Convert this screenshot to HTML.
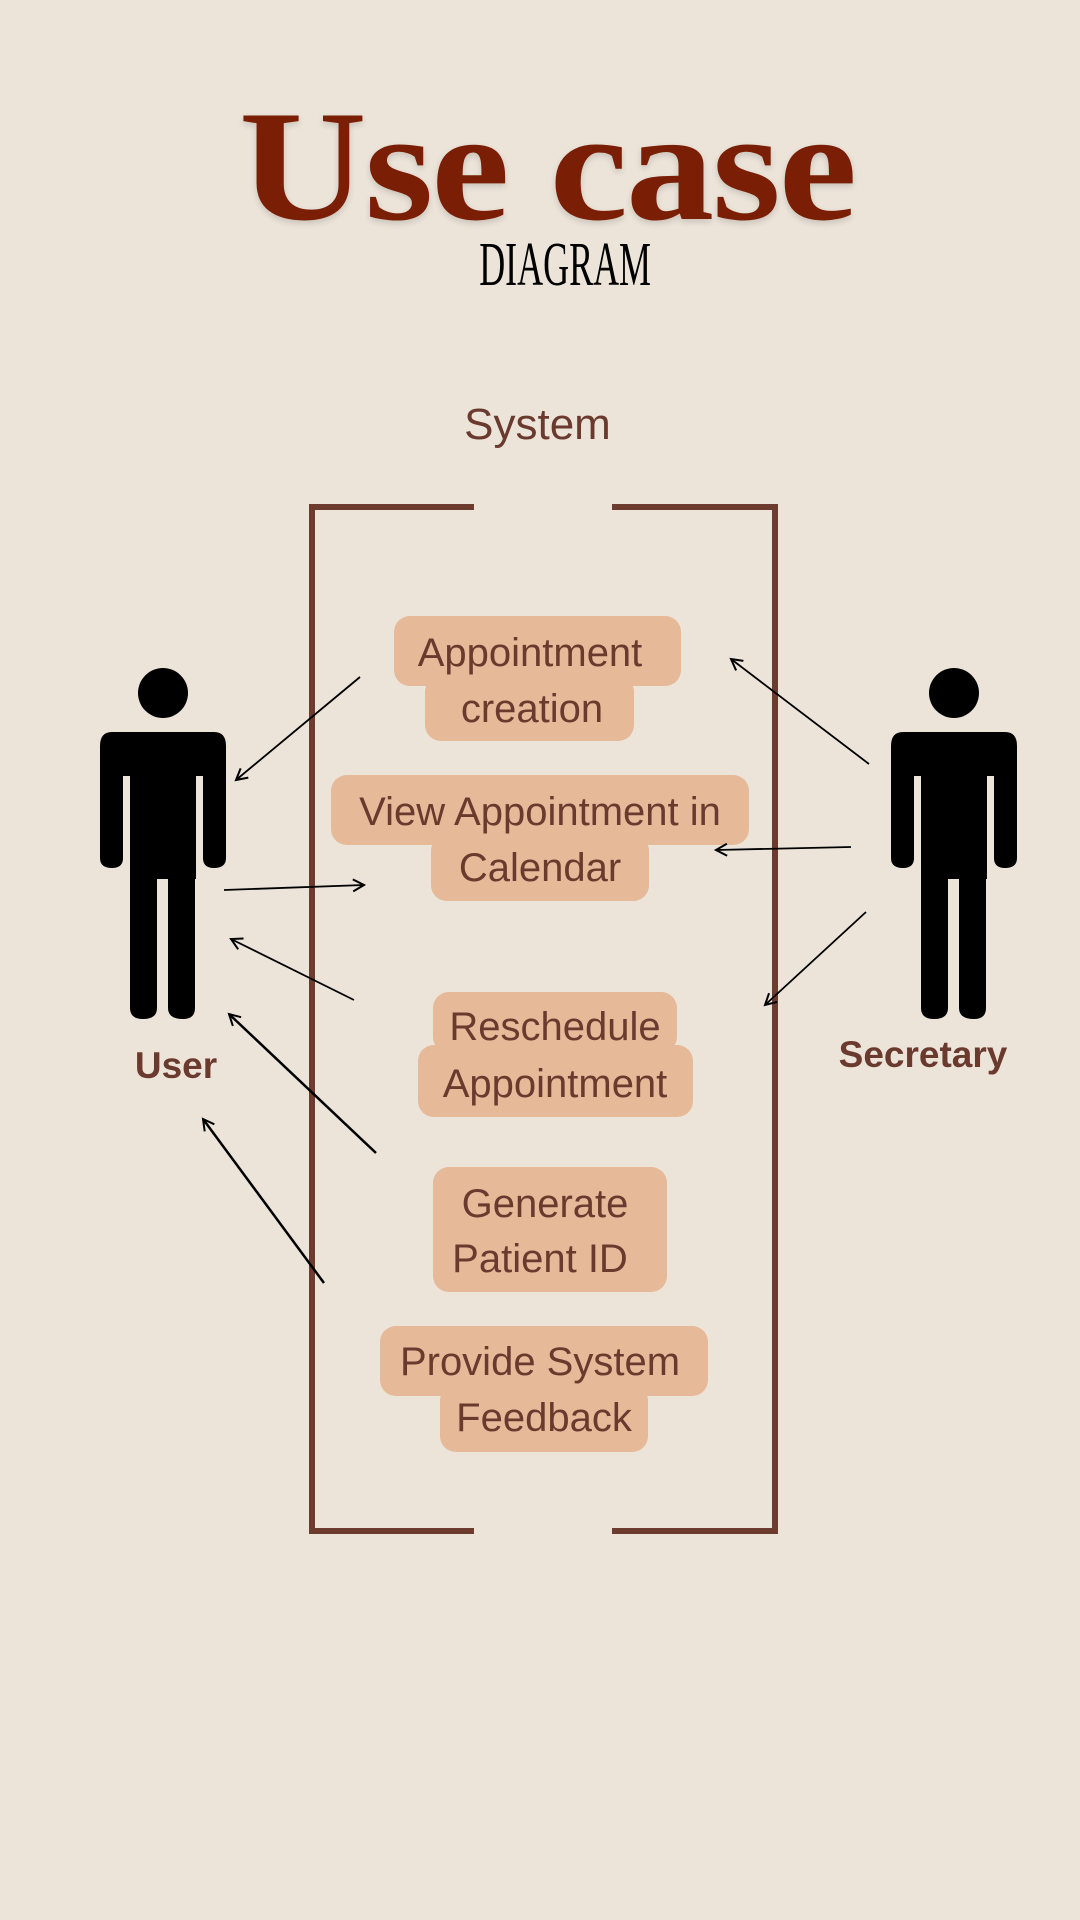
<!DOCTYPE html>
<html><head><meta charset="utf-8"><style>
html,body{margin:0;padding:0}
body{width:1080px;height:1920px;background:#ece4d9;position:relative;overflow:hidden;font-family:"Liberation Sans",sans-serif}
.t{position:absolute;white-space:nowrap}
.box{position:absolute;background:#e6b998;border-radius:16px}
.lbl{position:absolute;left:0;width:1080px;text-align:center;color:#6b3a2e;font-size:40px;line-height:1}
</style></head><body>
<div class="t" style="left:0;width:1080px;top:88px;text-align:center;font-family:'Liberation Serif',serif;font-weight:bold;font-size:158px;color:#7a1f05;letter-spacing:-2px;line-height:1;text-shadow:0 3px 6px rgba(0,0,0,0.15)"><span style="display:inline-block;transform:scaleX(1.12);margin-left:14px">Use case</span></div>
<div class="t" style="left:0;width:1130px;top:234px;text-align:center;font-family:'Liberation Serif',serif;font-size:62px;color:#000;line-height:1"><span style="display:inline-block;transform:scaleX(0.58)">DIAGRAM</span></div>
<div class="t" style="left:0;width:1075px;top:400px;text-align:center;font-size:44px;color:#6b3a2e">System</div>

<svg width="1080" height="1920" style="position:absolute;left:0;top:0">
<g fill="none" stroke="#6e3b2f" stroke-width="6">
<polyline points="474,507 312,507 312,1531 474,1531"/>
<polyline points="612,507 775,507 775,1531 612,1531"/>
</g>
</svg>

<div class="box" style="left:394px;top:616px;width:287px;height:70px"></div>
<div class="box" style="left:425px;top:676px;width:209px;height:65px"></div>
<div class="box" style="left:331px;top:775px;width:418px;height:70px"></div>
<div class="box" style="left:431px;top:835px;width:218px;height:66px"></div>
<div class="box" style="left:433px;top:992px;width:244px;height:61px"></div>
<div class="box" style="left:418px;top:1045px;width:275px;height:72px"></div>
<div class="box" style="left:433px;top:1167px;width:234px;height:125px"></div>
<div class="box" style="left:380px;top:1326px;width:328px;height:70px"></div>
<div class="box" style="left:440px;top:1385px;width:208px;height:67px"></div>

<div class="lbl" style="top:633px;left:-10px">Appointment</div>
<div class="lbl" style="top:689px;left:-8px">creation</div>
<div class="lbl" style="top:792px;left:0px">View Appointment in</div>
<div class="lbl" style="top:848px;left:0px">Calendar</div>
<div class="lbl" style="top:1007px;left:15px">Reschedule</div>
<div class="lbl" style="top:1064px;left:15px">Appointment</div>
<div class="lbl" style="top:1184px;left:5px">Generate</div>
<div class="lbl" style="top:1239px;left:0px">Patient ID</div>
<div class="lbl" style="top:1342px;left:0px">Provide System</div>
<div class="lbl" style="top:1398px;left:4px">Feedback</div>

<svg width="1080" height="1920" style="position:absolute;left:0;top:0">
<defs>
<g id="fig" fill="#000">
<ellipse cx="163" cy="693" rx="25" ry="25"/>
<path d="M112,732 H214 Q226,732 226,746 V858 Q226,868 214,868 Q203,868 203,858 V776 H196 V879 H195 V1008 Q195,1019 183,1019 Q168,1019 168,1008 V879 H157 V1008 Q157,1019 143,1019 Q130,1019 130,1008 V776 H123 V858 Q123,868 112,868 Q100,868 100,858 V746 Q100,732 112,732 Z"/>
</g>
<marker id="a" markerWidth="14" markerHeight="14" refX="12" refY="7" orient="auto" markerUnits="userSpaceOnUse"><path d="M1,1 L12,7 L1,13" fill="none" stroke="#000" stroke-width="2"/></marker>
</defs>
<use href="#fig"/>
<use href="#fig" transform="translate(791,0)"/>
<g stroke="#000" stroke-width="1.8" marker-end="url(#a)">
<line x1="360" y1="677" x2="236" y2="780"/>
<line x1="224" y1="890" x2="364" y2="885"/>
<line x1="354" y1="1000" x2="231" y2="939"/>
<line x1="376" y1="1153" x2="229" y2="1014" stroke-width="2.5"/>
<line x1="324" y1="1283" x2="203" y2="1119" stroke-width="2.5"/>
<line x1="869" y1="764" x2="731" y2="659"/>
<line x1="851" y1="847" x2="716" y2="850"/>
<line x1="866" y1="912" x2="765" y2="1005"/>
</g>
</svg>

<div class="t" style="left:96px;width:160px;text-align:center;top:1045px;font-size:37px;font-weight:bold;color:#6b3a2e">User</div>
<div class="t" style="left:823px;width:200px;text-align:center;top:1034px;font-size:37px;font-weight:bold;color:#6b3a2e">Secretary</div>
</body></html>
